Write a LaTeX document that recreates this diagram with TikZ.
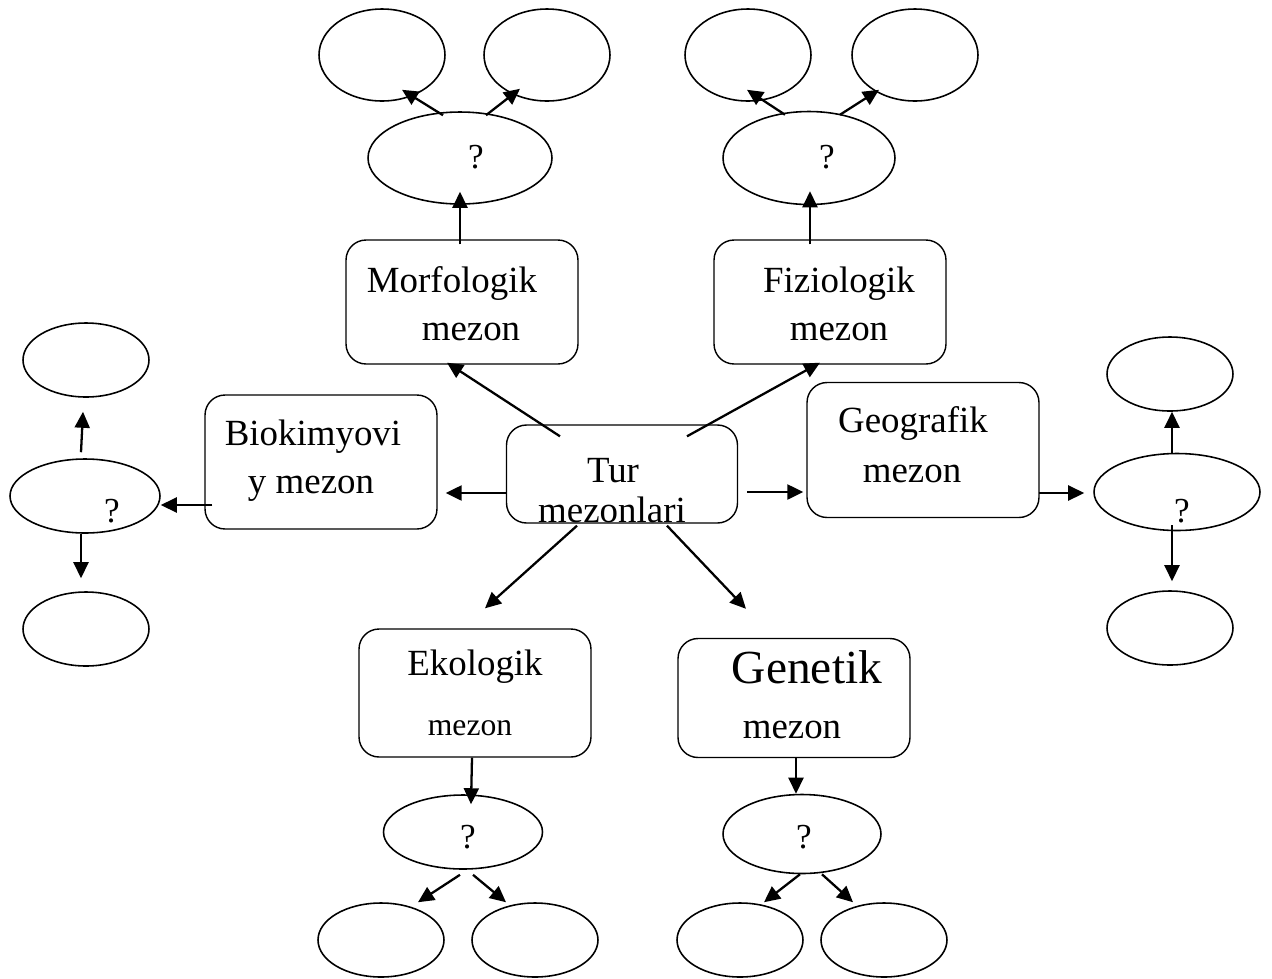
\documentclass[tikz,border=0pt]{standalone}
\usepackage{fontspec}
\setmainfont{Liberation Serif}
\usetikzlibrary{shapes.geometric,arrows.meta,calc}

\begin{document}
\begin{tikzpicture}[x=0.02cm, y=-0.02cm,
    every node/.style={font=\fontsize{21}{25}\selectfont},
    box/.style={draw, rounded corners=0.4cm, line width=0.8pt, minimum width=4.64cm, inner sep=0},
    oval/.style={draw, ellipse, line width=0.9pt, inner sep=0},
    lbl/.style={inner sep=0, anchor=base},
    qm/.style={inner sep=0, anchor=base, font=\fontsize{20}{24}\selectfont},
    arr/.style={-{Triangle[length=0.32cm,width=0.3cm]}, line width=1.3pt}
]
    \useasboundingbox (0,0) rectangle (1272,978);

    % criteria boxes
    \node[box, minimum height=1.96cm, minimum width=4.62cm] (tur) at (622,474) {};
    \node[box, minimum height=2.48cm] (morf) at (462,302) {};
    \node[box, minimum height=2.48cm] (fiz) at (830,302) {};
    \node[box, minimum height=2.68cm] (bio) at (321,462) {};
    \node[box, minimum height=2.70cm] (geo) at (923,450) {};
    \node[box, minimum height=2.56cm] (eko) at (475,693) {};
    \node[box, minimum height=2.38cm] (gen) at (794,698) {};

    \node[lbl] (turA) at (613,482) {Tur};
    \node[lbl] (turB) at (612,522) {mezonlari};
    \node[lbl] (morfA) at (452,292) {Morfologik};
    \node[lbl] (morfB) at (471,340) {mezon};
    \node[lbl] (fizA) at (839,292) {Fiziologik};
    \node[lbl] (fizB) at (839,340) {mezon};
    \node[lbl] (bioA) at (313,445) {Biokimyovi};
    \node[lbl] (bioB) at (311,493) {y mezon};
    \node[lbl] (geoA) at (913,432) {Geografik};
    \node[lbl] (geoB) at (912,482) {mezon};
    \node[lbl] (ekoA) at (475,675) {Ekologik};
    \node[lbl, font=\fontsize{18}{21}\selectfont] (ekoB) at (470,735) {mezon};
    \node[lbl, font=\fontsize{27}{32}\selectfont] (genA) at (807,683) {Genetik};
    \node[lbl] (genB) at (792,738) {mezon};

    % ovals with a question
    \node[oval, minimum width=3.68cm, minimum height=1.84cm] (mq) at (460,158) {};
    \node[oval, minimum width=3.44cm, minimum height=1.86cm] (fq) at (809,158) {};
    \node[oval, minimum width=3.00cm, minimum height=1.48cm] (lq) at (85,496) {};
    \node[oval, minimum width=3.32cm, minimum height=1.54cm] (rq) at (1177,492) {};
    \node[oval, minimum width=3.18cm, minimum height=1.48cm] (eq) at (463,832) {};
    \node[oval, minimum width=3.16cm, minimum height=1.58cm] (gq) at (802,834) {};

    \node[qm] (mqT) at (476,168) {?};
    \node[qm] (fqT) at (827,168) {?};
    \node[qm] (lqT) at (112,522) {?};
    \node[qm] (rqT) at (1182,522) {?};
    \node[qm] (eqT) at (468,848) {?};
    \node[qm] (gqT) at (804,848) {?};

    % empty answer ovals
    \foreach \n/\x in {m1/382, m2/547, f1/748, f2/915}
        \node[oval, minimum width=2.52cm, minimum height=1.84cm] (\n) at (\x,55) {};
    \foreach \n/\x/\y in {l1/86/360, l2/86/629, r1/1170/374, r2/1170/628}
        \node[oval, minimum width=2.52cm, minimum height=1.48cm] (\n) at (\x,\y) {};
    \foreach \n/\x in {e1/381, e2/535, g1/740, g2/884}
        \node[oval, minimum width=2.52cm, minimum height=1.48cm] (\n) at (\x,940) {};

    % from the centre box
    \draw[arr] ($(tur.north)+(-62,12)$) -- ($(morf.south)+(-15,-2)$);
    \draw[arr] ($(tur.north)+(65,12)$) -- ($(fiz.south)+(-10,-2)$);
    \draw[arr, shorten >=0.16cm] ($(tur.west)+(0,19)$) coordinate (tb) -- (tb -| bio.east);
    \draw[arr, shorten >=0.06cm] ($(tur.east)+(9,18)$) coordinate (tg) -- (tg -| geo.west);
    \draw[arr] ($(tur.south)+(-45,2)$) -- ($(eko.north)+(10,-20)$);
    \draw[arr] ($(tur.south)+(45,2)$) -- ($(gen.north)+(-48,-29)$);

    % top branches
    \draw[arr] ($(morf.north)+(-2,5)$) -- ($(mq.south)+(0,-13)$);
    \draw[arr] ($(fiz.north)+(-20,5)$) -- ($(fq.south)+(1,-14)$);
    \draw[arr] ($(mq.north)+(-17,4)$) -- ($(m1.south)+(20,-12)$);
    \draw[arr] ($(mq.north)+(26,4)$) -- ($(m2.south)+(-27,-13)$);
    \draw[arr] ($(fq.north)+(-24,4)$) -- ($(f1.south)+(-1,-12)$);
    \draw[arr] ($(fq.north)+(31,4)$) -- ($(f2.south)+(-36,-12)$);

    % left branch
    \draw[arr] ($(bio.west)+(8,43)$) coordinate (bl) -- (bl -| lq.east);
    \draw[arr] ($(lq.north)+(-4,-6)$) -- ($(l1.south)+(-3,14)$);
    \draw[arr] ($(lq.south)+(-4,0)$) -- ($(l2.north)+(-5,-13)$);

    % right branch
    \draw[arr, shorten >=0.18cm] ($(geo.east)+(-1,43)$) coordinate (gr) -- (gr -| rq.west);
    \draw[arr] ($(rq.north)+(-5,1)$) -- ($(r1.south)+(2,0)$);
    \draw[arr] ($(rq.south)+(-5,-6)$) -- ($(r2.north)+(2,-9)$);

    % bottom branches
    \draw[arr] ($(eko.south)+(-3,0)$) -- ($(eq.north)+(8,10)$);
    \draw[arr] ($(gen.south)+(2,0)$) -- ($(gq.north)+(-6,0)$);
    \draw[arr] ($(eq.south)+(-3,5)$) -- ($(e1.north)+(37,0)$);
    \draw[arr] ($(eq.south)+(10,5)$) -- ($(e2.north)+(-29,0)$);
    \draw[arr] ($(gq.south)+(-2,0)$) -- ($(g1.north)+(24,0)$);
    \draw[arr] ($(gq.south)+(20,0)$) -- ($(g2.north)+(-31,0)$);
\end{tikzpicture}
\end{document}
